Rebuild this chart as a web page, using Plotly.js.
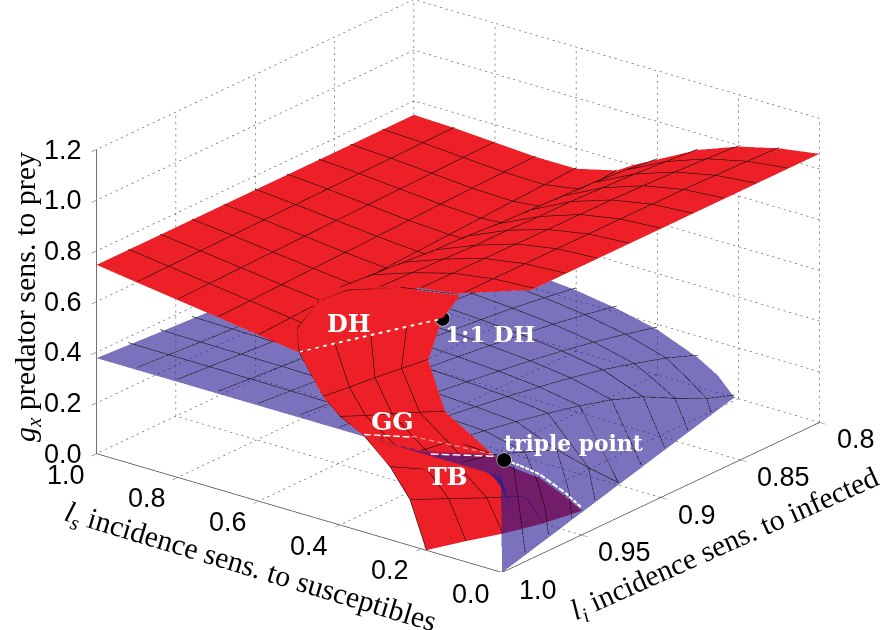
<!DOCTYPE html>
<html><head><meta charset="utf-8">
<script src="https://cdn.plot.ly/plotly-3.0.1.min.js"></script>
<style>html,body{margin:0;padding:0;background:#fff}#c{width:886px;height:630px}</style>
</head><body><div id="c"></div>
<script>
// ---------- axis ticks ----------
const lsTicks=[0,0.2,0.4,0.6,0.8,1.0];
const lsLabels=['0.0','0.2','0.4','0.6','0.8','1.0'];
const liTicks=[0.8,0.85,0.9,0.95,1.0];
const liLabels=['0.8','0.85','0.9','0.95','1.0'];
const gxTicks=[0,0.2,0.4,0.6,0.8,1.0,1.2];
const gxLabels=['0.0','0.2','0.4','0.6','0.8','1.0','1.2'];

// ---------- upper red sheet: gx(li row, ls column) ----------
const topLs=[1,.9,.8,.7,.6,.5,.49,.46,.4,.3,.2,.1,0];
const topLi=[.8,.82,.84,.86,.88,.9,.92,.94,.96,.98,1];
const topGx=[
[.745,.740,.730,.720,.720,.760,.770,.800,.850,.935,.995,1.035,1.060],
[.745,.738,.727,.716,.713,.740,.750,.800,.865,.945,1.003,1.040,1.060],
[.745,.736,.724,.712,.707,.725,.740,.800,.875,.955,1.010,1.044,1.060],
[.745,.735,.721,.708,.700,.710,.730,.800,.880,.960,1.015,1.047,1.060],
[.745,.733,.718,.703,.694,.695,.720,.800,.885,.965,1.018,1.048,1.060],
[.745,.731,.715,.699,.687,.680,.720,.800,.890,.965,1.020,1.049,1.060],
[.745,.730,.712,.695,.681,.670,.720,.810,.900,.970,1.020,1.049,1.060],
[.745,.728,.709,.691,.674,.660,.720,.820,.905,.970,1.022,1.050,1.060],
[.745,.726,.706,.686,.668,.650,.730,.830,.915,.975,1.024,1.050,1.060],
[.745,.724,.703,.682,.661,.640,.740,.840,.925,.980,1.025,1.050,1.060],
[.745,.722,.700,.678,.655,.633,.760,.850,.935,.985,1.027,1.050,1.060]];

// ---------- lower red sheet (folded part), parametric rows ----------
const lowLs=[
[.505,.456,.382,.250,.103],
[.500,.490,.480,.470,.460],
[.441,.435,.427,.420,.413],
[.399,.368,.338,.309,.277],
[.342,.270,.195,.135,.075],
[.276,.240,.189,.141,.086],
[.227,.194,.155,.119,.071],
[.187,.156,.124,.0955,.077]];
const lowLi=[
[1,1,1,1,1],
[1,.98,.96,.94,.92],
[1,.985,.971,.956,.941],
[1,.992,.983,.973,.965],
[1,.999,.997,.99,.98],
[1,.986,.976,.964,.954],
[1,.984,.97,.955,.942],
[1,.983,.968,.95,.93]];
const lowGx=[
[.725,.85,.932,1.005,1.045],
[.63,.61,.59,.57,.55],
[.485,.48,.48,.475,.47],
[.426,.42,.415,.405,.40],
[.38,.375,.37,.355,.335],
[.285,.25,.235,.215,.195],
[.178,.15,.13,.11,.095],
[0,0,0,0,0]];

// ---------- blue sheet ----------
const blueLi=[1,.98,.96,.94,.92,.9,.88,.86,.84,.82,.8];
const blueEdgeLs=[0,.021,.042,.063,.084,.105,.126,.147,.168,.189,.21];
const blueLs=[1,.9,.8,.7,.6,.5,.4,.3,.25,.2,.1,.07,.05,.003,0];
const blueGx=[
[.377,.369,.361,.354,.346,.338,.331,.323,.315,.308,.300],
[.377,.368,.359,.351,.342,.333,.325,.316,.307,.296,.285],
[.377,.368,.358,.349,.339,.329,.319,.309,.298,.285,.270],
[.377,.367,.357,.346,.335,.324,.313,.301,.289,.273,.255],
[.377,.366,.355,.343,.331,.318,.305,.292,.278,.260,.240],
[.377,.365,.352,.339,.325,.311,.296,.280,.262,.240,.215],
[.377,.363,.349,.334,.318,.301,.283,.262,.238,.210,.179],
[.377,.361,.344,.326,.307,.286,.262,.235,.200,.163,.115],
[.377,.360,.341,.320,.298,.272,.243,.205,.158,.110,.067],
[.377,.358,.337,.314,.288,.258,.222,.175,.110,.050,0],
[.377,.350,.300,.250,.120,0,0,0,0,0,0],
[.377,.340,.200,.100,0,0,0,0,0,0,0],
[.377,.330,.100,0,0,0,0,0,0,0,0],
[.377,0,0,0,0,0,0,0,0,0,0],
[0,0,0,0,0,0,0,0,0,0,0]];

// ---------- marked curves ----------
const dhLs=[.5,.4485], dhLi=[1,.923], dhGx=[.637,.564];
const ggLs=[.34,.246], ggLi=[1,.9937], ggGx=[.385,.40];
const ggFaintLs=[.249,.059], ggFaintLi=[.993,.988], ggFaintGx=[.40,.40];
const tbLs=[.18,.072], tbLi=[.999,.985], tbGx=[.38,.38];
const tbCurveLs=[.0635,.0685,.0745,.0595,.0655], tbCurveLi=[.983,.971,.957,.945,.933], tbCurveGx=[.364,.304,.224,.124,.026];
const pointLs=[.4485,.058], pointLi=[.923,.984], pointGx=[.564,.37];

const RED='#ee2027', BLUE='#281b93';
const flat={ambient:1,diffuse:0,specular:0,roughness:1,fresnel:0};
function sheet(X,Y,Z,c,op){
  return {type:'surface',x:X,y:Y,z:Z,opacity:op,showscale:false,hoverinfo:'skip',
    colorscale:[[0,c],[1,c]],cmin:0,cmax:1,surfacecolor:Z.map(r=>r.map(()=>0.5)),lighting:flat};
}
function meshLines(X,Y,Z,keepRow,keepCol,color,lift){
  const lx=[],ly=[],lz=[];
  const R=Z.length,C=Z[0].length;
  function push(i,j){lx.push(X[i][j]);ly.push(Y[i][j]);lz.push(Z[i][j]+lift);}
  function gap(){lx.push(null);ly.push(null);lz.push(null);}
  for(let i=0;i<R;i++){ if(!keepRow(i))continue;
    for(let j=0;j<C;j++){ if(Z[i][j]===0&&(j===0||Z[i][j-1]===0)&&(j===C-1||Z[i][j+1]===0)){gap();continue;} push(i,j);} gap(); }
  for(let j=0;j<C;j++){ if(!keepCol(j))continue;
    for(let i=0;i<R;i++){ if(Z[i][j]===0&&(i===0||Z[i-1][j]===0)&&(i===R-1||Z[i+1][j]===0)){gap();continue;} push(i,j);} gap(); }
  return {type:'scatter3d',mode:'lines',x:lx,y:ly,z:lz,line:{color:color,width:1.2},hoverinfo:'skip',showlegend:false};
}
// broken line: n pieces along a polyline, each covering `on` of its period
function broken(xs,ys,zs,n,on,color,w){
  const x=[],y=[],z=[];const m=xs.length-1;
  const at=(a,t)=>{const f=Math.min(t*m,m-1e-9),i=Math.floor(f);return a[i]+(a[i+1]-a[i])*(f-i);};
  for(let k=0;k<n;k++){const a=k/n,b=(k+on)/n;
    x.push(at(xs,a),at(xs,b),null);y.push(at(ys,a),at(ys,b),null);z.push(at(zs,a),at(zs,b),null);}
  return {x,y,z,type:'scatter3d',mode:'lines',line:{color:color,width:w},hoverinfo:'skip',showlegend:false};
}
// dotted grid on the walls and the floor, from the tick arrays
function grid(){
  const x=[],y=[],z=[];
  function seg(a,b,n){const t=broken([a[0],b[0]],[a[1],b[1]],[a[2],b[2]],n,.38,'',1);x.push(...t.x);y.push(...t.y);z.push(...t.z);}
  gxTicks.forEach(t=>{seg([1,.8,t],[1,1,t],60);seg([0,.8,t],[1,.8,t],72);});
  liTicks.forEach(t=>{seg([1,t,0],[1,t,1.2],50);seg([0,t,0],[1,t,0],72);});
  lsTicks.forEach(t=>{seg([t,.8,0],[t,.8,1.2],50);seg([t,.8,0],[t,1,0],60);});
  return {type:'scatter3d',mode:'lines',x,y,z,line:{color:'#333333',width:1},hoverinfo:'skip',showlegend:false};
}
const topX=topLi.map(()=>topLs), topY=topLi.map(v=>topLs.map(()=>v));
const blX=blueLs.map(l=>blueEdgeLs.map(e=>Math.max(l,e))), blY=blueLs.map(()=>blueLi);
const isTenth=l=>Math.abs(l*10-Math.round(l*10))<1e-6;
const traces=[
  grid(),
  sheet(topX,topY,topGx,RED,1),
  sheet(lowLs,lowLi,lowGx,RED,1),
  meshLines(topX,topY,topGx,i=>i>0&&i<10,j=>j>0&&j<12&&isTenth(topLs[j]),'#1a0a0a',.003),
  meshLines(lowLs,lowLi,lowGx,i=>i<7&&i!==4,j=>j<4,'#1a0a0a',.003),
  meshLines(blX,blY,blueGx,i=>i>0&&blueLs[i]>=.1&&isTenth(blueLs[i]),j=>j>0&&j<10,'#000000',.01),
  sheet(blX,blY,blueGx,BLUE,0.62),
  broken(dhLs,dhLi,dhGx,18,.45,'#ffffff',4),
  broken(ggLs,ggLi,ggGx,5,.7,'#ffffff',3),
  broken(ggFaintLs,ggFaintLi,ggFaintGx,10,.55,'#f59a9a',2.5),
  broken(tbLs,tbLi,tbGx,6,.7,'#ffffff',3),
  broken(tbCurveLs,tbCurveLi,tbCurveGx,16,.75,'#ffffff',4),
  {type:'scatter3d',mode:'markers',x:pointLs,y:pointLi,z:pointGx,hoverinfo:'skip',showlegend:false,
   marker:{size:8.5,color:'#000000',line:{color:'#ffffff',width:2}}}
];
const tickFont={family:'Liberation Sans',size:27,color:'#000'};
const sceneAnn=[];
lsTicks.forEach((t,i)=>sceneAnn.push({x:t,y:1,z:0,text:lsLabels[i],showarrow:false,xshift:-31,yshift:-21,font:tickFont}));
liTicks.forEach((t,i)=>sceneAnn.push({x:0,y:t,z:0,text:liLabels[i],showarrow:false,xanchor:'left',xshift:15,yshift:-17,font:tickFont}));
gxTicks.forEach((t,i)=>sceneAnn.push({x:1,y:1,z:t,text:gxLabels[i],showarrow:false,xanchor:'right',xshift:-13,yshift:0,font:tickFont}));
function axis(r,vals){return {range:r,autorange:false,tickmode:'array',tickvals:vals,showticklabels:false,ticks:'outside',ticklen:8,
  tickcolor:'#444',tickwidth:1,showgrid:false,zeroline:false,showline:true,linecolor:'#444',linewidth:1.5,showbackground:false,showspikes:false,title:{text:''}};}
const px=(X,Y,text,size,extra)=>Object.assign({xref:'paper',yref:'paper',x:X/886,y:1-Y/630,text:text,showarrow:false,xanchor:'center',yanchor:'middle',
  font:{family:'Liberation Serif',size:size,color:'#000'}},extra||{});
const white=(X,Y,t,s)=>px(X,Y,'<b>'+t+'</b>',s,{font:{family:'DejaVu Serif',size:s,color:'#fff'}});
const D=1.226, S=1.814, W=.995;
const layout={width:886,height:630,margin:{l:0,r:0,t:0,b:0},paper_bgcolor:'#fff',showlegend:false,
 scene:{domain:{x:[.034,1],y:[.092,1]},aspectmode:'manual',aspectratio:{x:S*W,y:.994*S*W,z:.6315*S},
  camera:{eye:{x:-.574*D,y:.729*D,z:.372*D},center:{x:0,y:0,z:0},up:{x:0,y:0,z:1},projection:{type:'orthographic'}},
  xaxis:axis([0,1],lsTicks),yaxis:axis([.8,1],liTicks),zaxis:axis([0,1.2],gxTicks),annotations:sceneAnn},
 annotations:[
  px(250,568,'<i>l<sub>s</sub></i> incidence sens. to susceptibles',29.8,{textangle:16.8}),
  px(725,545,'<i>l<sub>i</sub></i> incidence sens. to infected',29.6,{textangle:-24.1}),
  px(27,297,'<i>g<sub>x</sub></i> predator sens. to prey',30,{textangle:-90}),
  white(349,324,'DH',24),white(490,333,'1:1 DH',23),white(392,421,'GG',25),white(448,476,'TB',25),white(573,443,'triple point',21.8)
 ]};
Plotly.newPlot('c',traces,layout,{displayModeBar:false});
</script></body></html>
